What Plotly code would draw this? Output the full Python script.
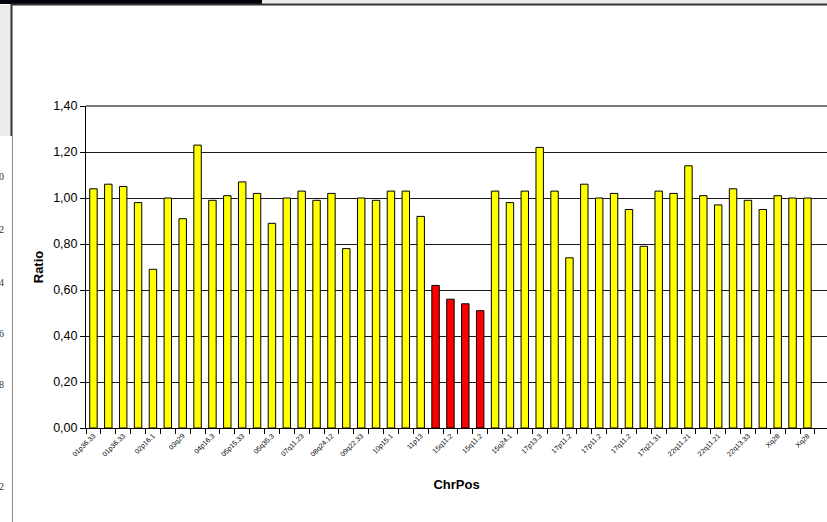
import plotly.graph_objects as go

# ---- data ----
tick_labels = ["01p36.33", "01p36.33", "02p16.1", "03q29", "04p16.3", "05p15.33",
               "05q35.3", "07q11.23", "08q24.12", "09q22.33", "10p15.1", "11p13",
               "15q11.2", "15q11.2", "15q24.1", "17p13.3", "17p11.2", "17p11.2",
               "17q11.2", "17q21.31", "22q11.21", "22q11.21", "22q13.33", "Xq28", "Xq28"]

ratios = [1.04, 1.06, 1.05, 0.98, 0.69, 1.00, 0.91, 1.23, 0.99, 1.01,
          1.07, 1.02, 0.89, 1.00, 1.03, 0.99, 1.02, 0.78, 1.00, 0.99,
          1.03, 1.03, 0.92, 0.62, 0.56, 0.54, 0.51, 1.03, 0.98, 1.03,
          1.22, 1.03, 0.74, 1.06, 1.00, 1.02, 0.95, 0.79, 1.03, 1.02,
          1.14, 1.01, 0.97, 1.04, 0.99, 0.95, 1.01, 1.00, 1.00]

# probes flagged as deleted (drawn in red)
deleted = [False] * 23 + [True] * 4 + [False] * 22

positions = list(range(len(ratios)))
tick_positions = positions[::2]
colors = ["#FF0000" if d else "#FFFF00" for d in deleted]

# ---- layout geometry (pixels) ----
W, H = 827, 522
L, R, T, B = 86, 0, 106, 94
PW, PH = W - L - R, H - T - B


def px(x):
    return (x - L) / PW


def py(y):
    return (H - B - y) / PH


fig = go.Figure()
fig.add_trace(go.Bar(
    x=positions, y=ratios, width=0.5,
    marker=dict(color=colors, line=dict(color="#000000", width=1)),
    showlegend=False, hoverinfo="x+y",
))

FONT = "Liberation Sans, Arial, sans-serif"

fig.update_layout(
    width=W, height=H,
    margin=dict(l=L, r=R, t=T, b=B, autoexpand=False),
    paper_bgcolor="white", plot_bgcolor="white",
    separators=",.",
    font=dict(family=FONT, color="#000000"),
    bargap=0.5,
    xaxis=dict(
        range=[-0.5, -0.5 + PW / 14.875],
        tickmode="array", tickvals=tick_positions, ticktext=tick_labels,
        tickangle=-45, tickfont=dict(size=7, family=FONT),
        ticks="", showgrid=False, zeroline=False,
        showline=True, linecolor="#000000", linewidth=1,
        minor=dict(ticks="outside", ticklen=5, tickcolor="#000000", tickwidth=1,
                   tick0=-0.5, dtick=1, showgrid=False),
        title=dict(text="<b>ChrPos</b>", font=dict(size=13, family=FONT), standoff=22),
        automargin=False,
    ),
    yaxis=dict(
        range=[0, 1.4], tick0=0, dtick=0.2, tickformat=".2f",
        tickfont=dict(size=12.5, family=FONT),
        ticks="outside", ticklen=5, tickcolor="#000000", tickwidth=1,
        showgrid=True, gridcolor="#1a1a1a", gridwidth=1,
        zeroline=False, showline=True, linecolor="#000000", linewidth=1,
        title=dict(text="<b>Ratio</b>", font=dict(size=13, family=FONT), standoff=6),
        automargin=False,
    ),
)

shapes = [
    # plot area top border (gray)
    dict(type="line", xref="paper", yref="paper", x0=0, x1=1, y0=1, y1=1,
         line=dict(color="#7a7a7a", width=2)),
    # window chrome: black title strip, light strip, dark rule
    dict(type="rect", xref="paper", yref="paper", x0=px(0), x1=px(262), y0=py(4), y1=py(-1),
         fillcolor="#02020c", line=dict(width=0)),
    dict(type="rect", xref="paper", yref="paper", x0=px(262), x1=px(W + 1), y0=py(3.5), y1=py(-1),
         fillcolor="#ececec", line=dict(width=0)),
    dict(type="line", xref="paper", yref="paper", x0=px(11), x1=px(W + 1), y0=py(4.5), y1=py(4.5),
         line=dict(color="#333333", width=2)),
    # left panel
    dict(type="rect", xref="paper", yref="paper", x0=px(-1), x1=px(11), y0=py(136), y1=py(5),
         fillcolor="#ececec", line=dict(width=0)),
    dict(type="line", xref="paper", yref="paper", x0=px(11.5), x1=px(11.5), y0=py(136), y1=py(4),
         line=dict(color="#333333", width=2)),
    dict(type="line", xref="paper", yref="paper", x0=px(12.5), x1=px(12.5), y0=py(H + 1), y1=py(136),
         line=dict(color="#8a8a8a", width=1)),
]
fig.update_layout(shapes=shapes)

# clipped fragments of a neighbouring window's labels at the left edge
fragments = [("0", 176), ("2", 229), ("4", 282), ("6", 333), ("8", 384), ("2", 486)]
for txt, yy in fragments:
    fig.add_annotation(text=txt, xref="paper", yref="paper", x=px(6), y=py(yy),
                       xanchor="right", yanchor="middle", showarrow=False,
                       font=dict(size=10, family="Liberation Serif, serif", color="#333333"))

fig.write_html("out.html",
               config={"displayModeBar": False},
               post_script="document.body.style.margin='0';document.body.style.overflow='hidden';")
